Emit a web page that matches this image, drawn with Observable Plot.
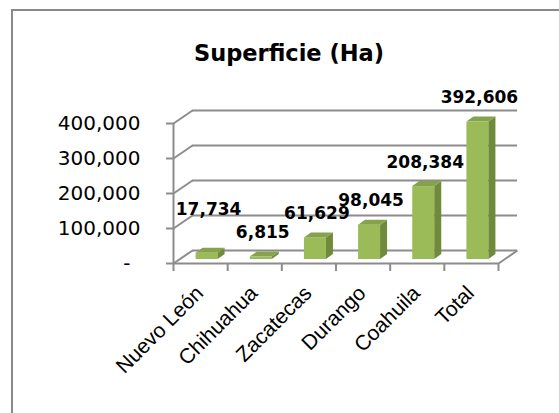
<!DOCTYPE html>
<html>
<head>
<meta charset="utf-8">
<script src="https://cdn.jsdelivr.net/npm/d3@7"></script>
<script src="https://cdn.jsdelivr.net/npm/@observablehq/plot@0.6"></script>
<style>
  html, body { margin: 0; padding: 0; background: #fff; }
  #wrap { position: relative; width: 559px; height: 413px; overflow: hidden; background: #fff; }
  #frame { position: absolute; left: 11px; top: 9px; right: -5px; bottom: -5px;
           border-top: 2px solid #8a8a8a; border-left: 2px solid #8a8a8a; }
  #title { position: absolute; top: 42px; left: 289px; transform: translateX(-50%);
           font-family: "DejaVu Sans", sans-serif; font-weight: bold; font-size: 22.5px;
           line-height: 1; white-space: nowrap; color: #000; }
  #chart { position: absolute; left: 0; top: 0; }
</style>
</head>
<body>
<div id="wrap">
  <div id="frame"></div>
  <div id="chart"></div>
  <div id="title">Superficie (Ha)</div>
</div>
<script>
// ---- data ----
const categories = ["Nuevo León", "Chihuahua", "Zacatecas", "Durango", "Coahuila", "Total"];
const values = [17734, 6815, 61629, 98045, 208384, 392606];
const yTicks = [0, 100000, 200000, 300000, 400000];

// ---- layout ----
const W = 559, H = 413;
const mL = 173, mR = 61, mT = 123, mB = 150;
const yMax = 400000;
const n = categories.length;
const kx = (W - mL - mR) / n;          // px per x unit
const ky = (H - mT - mB) / yMax;       // px per y unit
const px2x = p => p / kx;
const px2y = p => p / ky;

// 3D depth (pixels)
const wallDX = px2x(19), wallDY = px2y(13);
const barOX = px2x(6.5), barOY = px2y(4);
const barHalf = px2x(11);
const barDX = px2x(7), barDY = px2y(5);

const labelLift = {"Nuevo León": 19};

const gridColor = "#8c8c8c";
const cFront = "#9bbb59", cTop = "#86a24b", cSide = "#6e8a3a";

const rows = categories.map((c, i) => ({c, i, v: values[i]}));
const xl = d => d.i + 0.5 + barOX - barHalf;
const xr = d => d.i + 0.5 + barOX + barHalf;

const sidePts = rows.flatMap(d => [
  {c: d.c, x: xr(d), y1: barOY, y2: d.v + barOY},
  {c: d.c, x: xr(d) + barDX, y1: barOY + barDY, y2: d.v + barOY + barDY}
]);
const topPts = rows.flatMap(d => [
  {c: d.c, y: d.v + barOY, x1: xl(d), x2: xr(d)},
  {c: d.c, y: d.v + barOY + barDY, x1: xl(d) + barDX, x2: xr(d) + barDX}
]);

const fmt = d3.format(",");
const bounds = d3.range(n + 1);

const chart = Plot.plot({
  width: W, height: H,
  marginLeft: mL, marginRight: mR, marginTop: mT, marginBottom: mB,
  style: {fontFamily: "DejaVu Sans, sans-serif", background: "transparent", overflow: "visible", color: "#000"},
  x: {domain: [0, n], axis: null},
  y: {domain: [0, yMax], axis: null},
  marks: [
    // back wall gridlines
    Plot.ruleY(yTicks, {y: d => d + wallDY, x1: () => wallDX, x2: () => n + wallDX, stroke: gridColor, strokeWidth: 2}),
    // left wall diagonals
    Plot.link(yTicks, {x1: () => 0, y1: d => d, x2: () => wallDX, y2: d => d + wallDY, stroke: gridColor, strokeWidth: 2}),
    // floor right edge
    Plot.link([0], {x1: () => n, y1: d => d, x2: () => n + wallDX, y2: d => d + wallDY, stroke: gridColor, strokeWidth: 2}),
    // floor front edge
    Plot.ruleY([0], {x1: () => 0, x2: () => n, stroke: gridColor, strokeWidth: 2}),
    // front vertical axis
    Plot.ruleX([0], {y1: () => 0, y2: () => yMax, stroke: gridColor, strokeWidth: 2}),
    // category ticks
    Plot.ruleX(bounds, {x: d => d, y1: () => 0, y2: () => -px2y(8), stroke: gridColor, strokeWidth: 2}),
    // y axis
    Plot.axisY({
      ticks: yTicks, tickSize: 7, tickPadding: 26, label: null,
      tickFormat: d => d === 0 ? "-\u2002" : fmt(d),
      stroke: gridColor, strokeWidth: 2, fill: "#000", fontSize: 20
    }),
    // bars: front, side, top faces
    Plot.rectY(rows, {x1: xl, x2: xr, y1: () => barOY, y2: d => d.v + barOY, fill: cFront}),
    Plot.areaY(sidePts, {x: "x", y1: "y1", y2: "y2", z: "c", fill: cSide}),
    Plot.areaX(topPts, {y: "y", x1: "x1", x2: "x2", z: "c", fill: cTop}),
    // data labels
    Plot.text(rows, {
      x: d => d.i + 0.5, y: d => d.v + px2y(labelLift[d.c] || 0),
      text: d => fmt(d.v), dx: 8, dy: -23, lineAnchor: "bottom",
      fontWeight: "bold", fontSize: 17, fill: "#000"
    }),
    // category labels
    Plot.text(rows, {
      x: d => d.i + 0.5, y: () => 0, text: "c", rotate: -45,
      textAnchor: "end", lineAnchor: "bottom", dx: 4, dy: 31,
      fontFamily: "Liberation Sans, Arial, sans-serif",
      fontSize: 21, fill: "#000"
    })
  ]
});
document.getElementById("chart").appendChild(chart);
</script>
</body>
</html>
